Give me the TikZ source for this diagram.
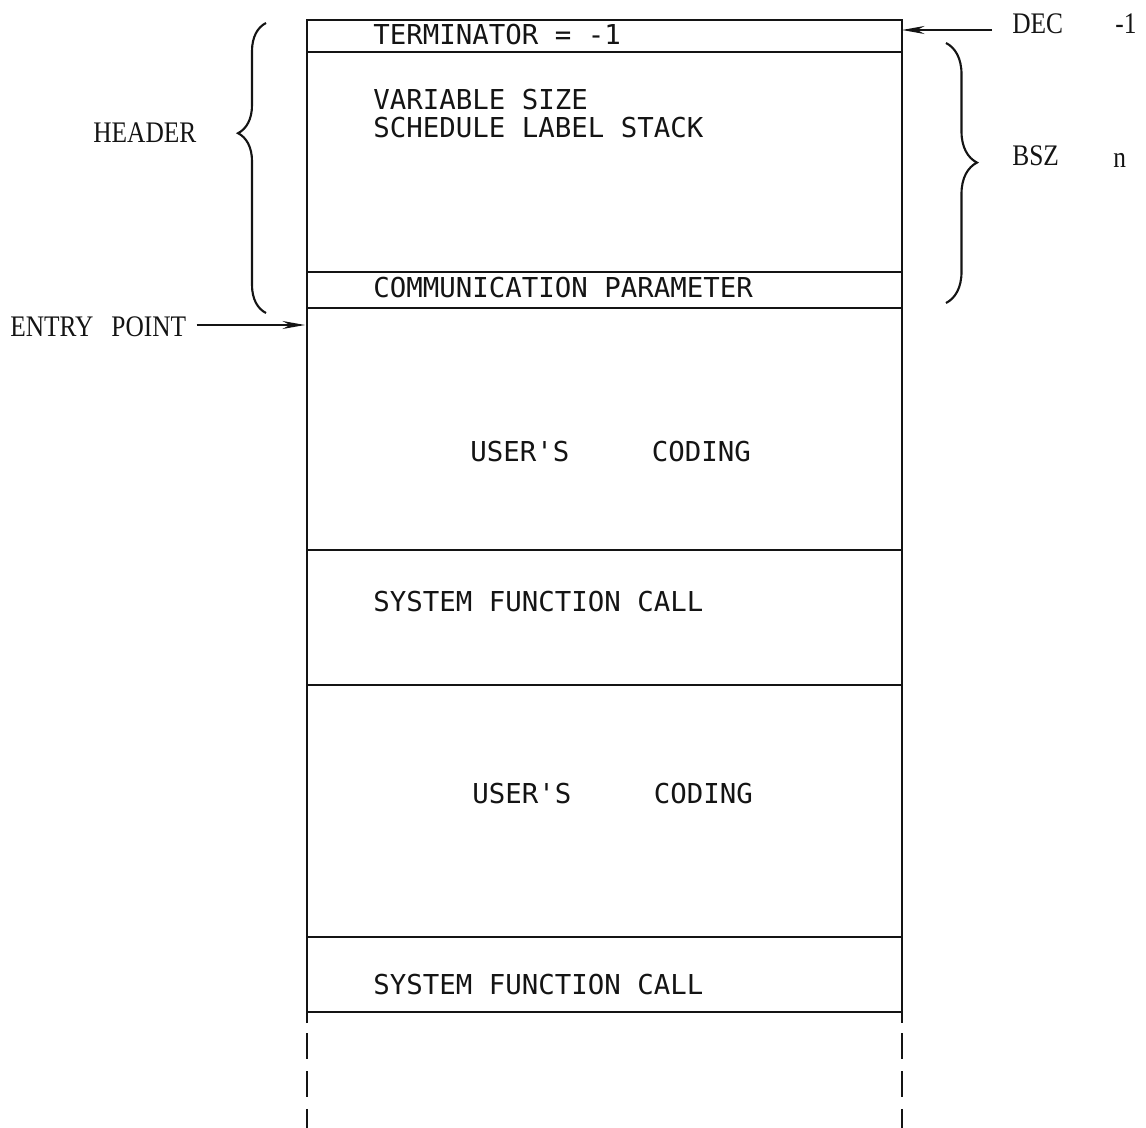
\documentclass[tikz,border=0pt]{standalone}
\usepackage{fontspec}
\usepackage{xcolor}
\usepackage{tikz}
\usetikzlibrary{arrows.meta,decorations.pathreplacing}
\newfontfamily\monofnt{DejaVu Sans Mono}
\newfontfamily\lblfnt[FakeStretch=0.85]{Liberation Serif}
\definecolor{ink}{HTML}{141414}
\tikzset{
  txt/.style={anchor=base west,inner sep=0pt,text=ink,font=\monofnt\fontsize{15.6}{16}\selectfont},
  lbl/.style={anchor=base west,inner sep=0pt,text=ink,font=\lblfnt\fontsize{17}{20}\selectfont},
  wall/.style={draw=ink,line width=1.3pt},
  rule/.style={draw=ink,line width=1pt},
  ar/.style={-{Stealth[length=4.5mm,width=1.6mm]},line width=1pt,ink},
  brc/.style 2 args={decorate,decoration={brace,amplitude=#1,aspect=#2},line width=1.2pt,ink}
}
\begin{document}
\begin{tikzpicture}[x=0.02cm,y=-0.02cm]
\useasboundingbox (0,0) rectangle (1146,1128);
% block outline and section rules
\draw[wall] (307,1023) -- (307,20) -- (902,20) -- (902,1023);
\foreach \yy in {52,272,308,550,685,937,1012}{\draw[rule] (307,\yy) -- (902,\yy);}
\draw[wall,dash pattern=on 0.52cm off 0.24cm] (307,1033) -- (307,1140);
\draw[wall,dash pattern=on 0.52cm off 0.24cm] (902,1033) -- (902,1140);
% section texts
\node[txt] (term) at (373,45) {TERMINATOR = -1};
\node[txt] (vsz) at (373,110) {VARIABLE SIZE};
\node[txt] (stk) at (373,138) {SCHEDULE LABEL STACK};
\node[txt] (comm) at (373,298) {COMMUNICATION PARAMETER};
\node[txt] (code1) at (470,461) {USER'S\hspace{3.01em}CODING};
\node[txt] (sfc1) at (373,611) {SYSTEM FUNCTION CALL};
\node[txt] (code2) at (472,803) {USER'S\hspace{3.01em}CODING};
\node[txt] (sfc2) at (373,994) {SYSTEM FUNCTION CALL};
% outer labels
\node[lbl] (hdr) at (93,143) {HEADER};
\node[lbl] (ept) at (10,337) {ENTRY\hspace{0.6em}POINT};
\node[lbl] (dec) at (1012,34) {DEC};
\node[lbl] (decv) at (1115,34) {-1};
\node[lbl] (bsz) at (1012,166) {BSZ};
\node[lbl] (bszv) at (1113,168) {n};
% braces
\draw[brc={0.56cm}{0.62}] (266,313) -- (266,23);
\draw[brc={0.62cm}{0.46}] (946,43) -- (946,303);
% arrows
\coordinate (topin) at (902,30);
\coordinate (entry) at (305,325);
\draw[ar] ([xshift=-0.4cm]dec.west |- topin) -- (topin);
\draw[ar] ([xshift=0.2cm]ept.east |- entry) -- (entry);
\end{tikzpicture}
\end{document}
